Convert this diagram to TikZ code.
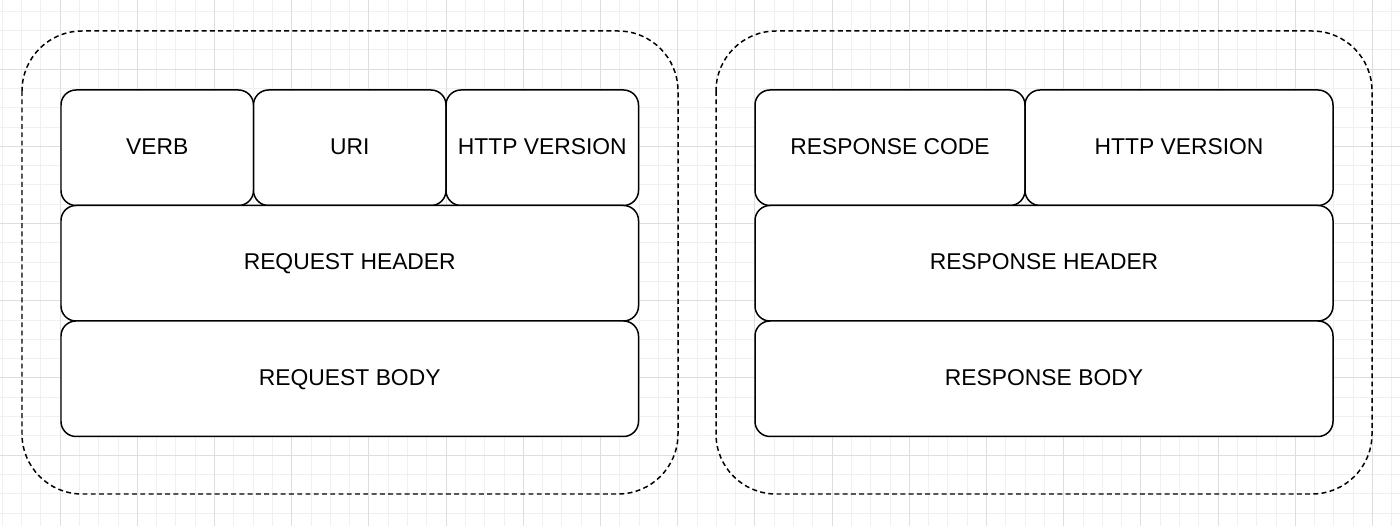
\documentclass[tikz,border=0pt]{standalone}
\usepackage{fontspec}
\setmainfont{Liberation Sans}
\usetikzlibrary{positioning}

\definecolor{gridmajor}{HTML}{DEDEDE}
\definecolor{gridminor}{HTML}{F0F0F0}

\tikzset{
  field/.style={draw, line width=0.85pt, rounded corners=0.3cm, fill=white,
    minimum height=2.31cm, inner sep=0pt, outer sep=0pt,
    text height=0.716em, text depth=0pt,
    font=\fontsize{13}{15}\selectfont},
  message/.style={draw, line width=0.85pt, dash pattern=on 2.8pt off 1.9pt,
    rounded corners=1.2cm}
}

\begin{document}
\begin{tikzpicture}
\useasboundingbox (0,0) rectangle (28,-10.52);
\fill[white] (0,0) rectangle (28,-10.52);

% grid paper
\begin{scope}
\clip (0,0) rectangle (28,-10.52);
\draw[gridminor, line width=0.4pt, shift={(1.2,-1.38)}, step=0.386] (-1.6,-9.5) grid (27,1.6);
\draw[gridmajor, line width=0.5pt, shift={(1.2,-1.38)}, step=1.544] (-1.6,-9.5) grid (27,1.6);
\end{scope}

% request
\draw[message] (0.44,-0.62) rectangle (13.56,-9.88);
\node[field, minimum width=3.85cm] (verb) at (3.145,-2.955) {VERB};
\node[field, minimum width=3.85cm, right=0pt of verb] (uri) {URI};
\node[field, minimum width=3.85cm, right=0pt of uri] (reqversion) {HTTP VERSION};
\node[field, minimum width=11.55cm, below=0pt of uri] (reqheader) {REQUEST HEADER};
\node[field, minimum width=11.55cm, below=0pt of reqheader] (reqbody) {REQUEST BODY};

% response
\draw[message] (14.32,-0.62) rectangle (27.44,-9.88);
\node[field, minimum width=5.4cm] (rescode) at (17.8,-2.955) {RESPONSE CODE};
\node[field, minimum width=6.16cm, right=0pt of rescode] (resversion) {HTTP VERSION};
\node[field, minimum width=11.56cm, below=0pt of rescode.south west, anchor=north west] (resheader) {RESPONSE HEADER};
\node[field, minimum width=11.56cm, below=0pt of resheader] (resbody) {RESPONSE BODY};
\end{tikzpicture}
\end{document}
